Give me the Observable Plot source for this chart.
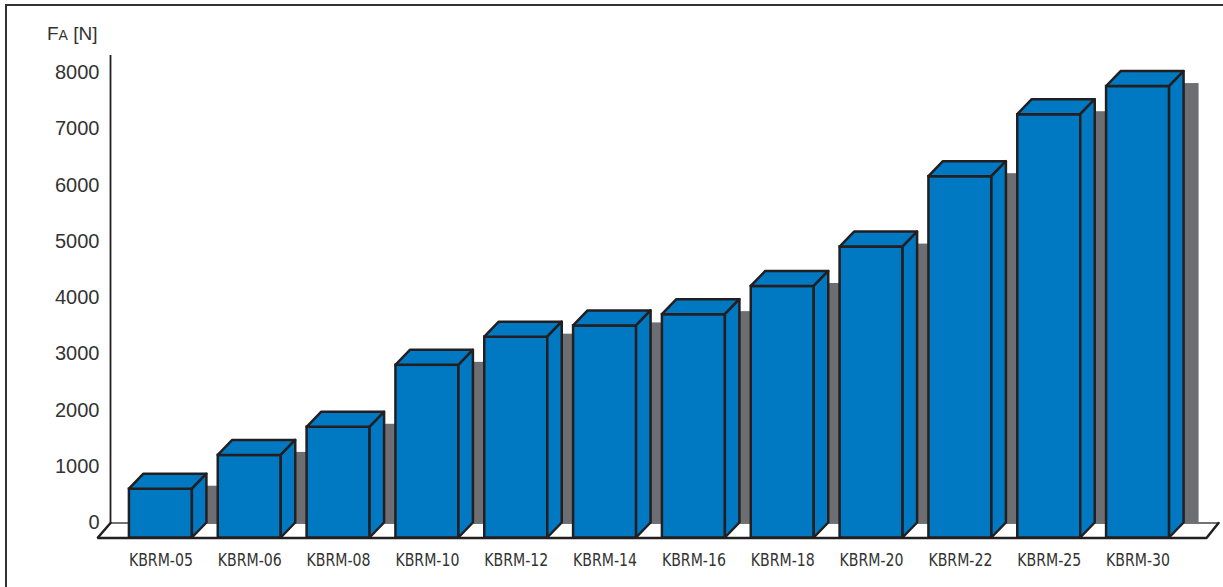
<!DOCTYPE html>
<html>
<head>
<meta charset="utf-8">
<script src="https://cdn.jsdelivr.net/npm/d3@7"></script>
<script src="https://cdn.jsdelivr.net/npm/@observablehq/plot@0.6"></script>
<style>
  html, body { margin: 0; padding: 0; background: #fff; }
  #wrap { position: relative; width: 1223px; height: 587px; overflow: hidden; }
  #wrap svg { position: absolute; left: 0; top: 0; }
  #frame { position: absolute; left: 5px; top: 4px; right: -10px; bottom: -10px;
           border-top: 2px solid #333; border-left: 2px solid #333; pointer-events: none; z-index: 2; }
</style>
</head>
<body>
<div id="wrap"><div id="frame"></div></div>
<script>
// ---- data ----
const categories = ["KBRM-05","KBRM-06","KBRM-08","KBRM-10","KBRM-12","KBRM-14","KBRM-16","KBRM-18","KBRM-20","KBRM-22","KBRM-25","KBRM-30"];
const forces = [600, 1200, 1700, 2800, 3300, 3500, 3700, 4200, 4900, 6150, 7250, 7750];
const yTicks = [0, 1000, 2000, 3000, 4000, 5000, 6000, 7000, 8000];

// ---- layout ----
const W = 1223, H = 587;
const mL = 116, mR = 41, mT = 72, mB = 64.5;
const xDomain = [-0.5, categories.length - 0.5];
const yDomain = [0, 8000];
const pxX = (W - mL - mR) / (xDomain[1] - xDomain[0]);
const pxY = (H - mT - mB) / (yDomain[1] - yDomain[0]);
const dxPx = 14.5, dyPx = 15;
const DX = dxPx / pxX, DY = dyPx / pxY;
const HW = 31.5 / pxX;

const BLUE = "#0079c2", DARK = "#231f20", GRAY = "#6d6e71", TEXT = "#333";
const FONT = "'Liberation Sans', Arial, sans-serif";
const NARROW = "'Liberation Sans Narrow', 'Arial Narrow', 'DejaVu Sans Condensed', sans-serif";

const bars = categories.map((c, i) => ({i, c, v: forces[i]}));

const topRows = [], sideRows = [];
for (const b of bars) {
  const x1 = b.i - HW, x2 = b.i + HW, v = b.v;
  topRows.push({k: b.i, x: x1, y1: v, y2: v});
  topRows.push({k: b.i, x: x1 + DX, y1: v, y2: v + DY});
  topRows.push({k: b.i, x: x2, y1: v, y2: v + DY});
  topRows.push({k: b.i, x: x2 + DX, y1: v + DY, y2: v + DY});
  sideRows.push({k: b.i, x: x2, y1: -DY, y2: v});
  sideRows.push({k: b.i, x: x2 + DX, y1: 0, y2: v + DY});
}

const axisX = xDomain[0] - 6 / pxX;
const floorRight = xDomain[1] + 36 / pxX;
const floorBack = [{x: axisX, y: 0}, {x: floorRight, y: 0}];
const floorFront = [{x: axisX, y: 0}, {x: axisX - 13 / pxX, y: -DY}, {x: floorRight - 12 / pxX, y: -DY}, {x: floorRight, y: 0}];

const svg = Plot.plot({
  width: W, height: H,
  marginLeft: mL, marginRight: mR, marginTop: mT, marginBottom: mB,
  style: {fontFamily: FONT, background: "white", overflow: "visible"},
  x: {type: "linear", domain: xDomain, axis: null},
  y: {type: "linear", domain: yDomain, axis: null},
  marks: [
    Plot.line(floorBack, {x: "x", y: "y", stroke: "#444", strokeWidth: 1.5}),
    Plot.ruleX([axisX], {y1: 0, y2: yDomain[1] + 17 / pxY, stroke: DARK, strokeWidth: 1.8}),
    Plot.rect(bars, {x1: d => d.i, x2: d => d.i + HW + (dxPx + 15) / pxX, y1: () => 0, y2: d => d.v + 3 / pxY, fill: GRAY}),
    Plot.line(floorFront, {x: "x", y: "y", stroke: DARK, strokeWidth: 2.5, strokeLinejoin: "miter"}),
    Plot.rect(bars, {x1: d => d.i - HW, x2: d => d.i + HW, y1: () => -DY, y2: d => d.v, fill: BLUE, stroke: DARK, strokeWidth: 2.5}),
    Plot.areaY(topRows, {x: "x", y1: "y1", y2: "y2", z: "k", fill: BLUE, stroke: DARK, strokeWidth: 2.5, strokeLinejoin: "round"}),
    Plot.areaY(sideRows, {x: "x", y1: "y1", y2: "y2", z: "k", fill: BLUE, stroke: DARK, strokeWidth: 2.5, strokeLinejoin: "round"}),
    Plot.axisY(yTicks, {tickSize: 0, tickPadding: 17, fontSize: 20, fill: TEXT, tickFormat: d => String(d), label: null}),
    Plot.text(bars, {x: "i", y: () => 0, text: "c", dy: 37, fontSize: 18, fontFamily: NARROW, fill: TEXT})
  ]
});

// condense category labels to the narrow width of the original
d3.select(svg).selectAll('g[aria-label="text"] text')
  .attr("textLength", 64).attr("lengthAdjust", "spacingAndGlyphs");

const lbl = d3.select(svg).append("text")
  .attr("x", 47).attr("y", 40).attr("text-anchor", "start")
  .attr("fill", TEXT).attr("font-family", FONT).attr("font-size", 19);
lbl.append("tspan").text("F");
lbl.append("tspan").attr("font-size", 14).text("A");
lbl.append("tspan").text(" [N]");

document.getElementById("wrap").appendChild(svg);
</script>
</body>
</html>
